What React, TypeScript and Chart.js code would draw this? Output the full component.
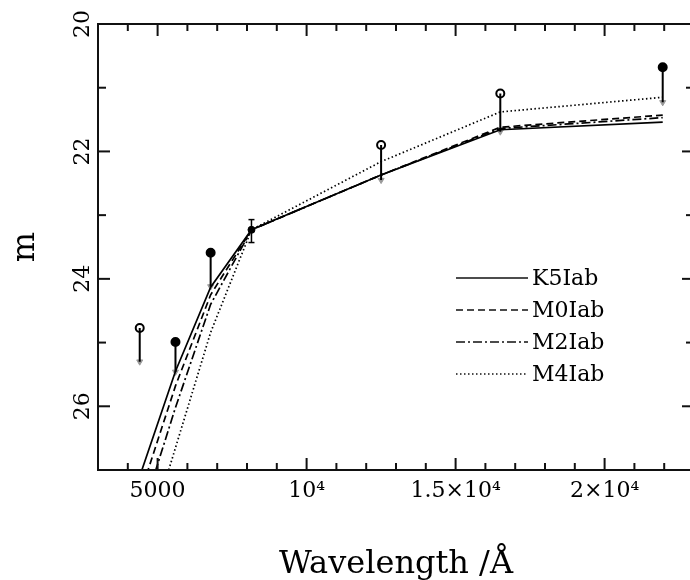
import React, { useEffect, useRef } from 'react';
import { Chart, registerables } from 'chart.js';

Chart.register(...registerables);

// Model SED wavelengths (Å) and magnitudes
const modelWavelengths = [4400, 5600, 6780, 8150, 12500, 16500, 21950];
const k5Iab = [27.1, 25.45, 24.13, 23.23, 22.37, 21.66, 21.54];
const m0Iab = [27.4, 25.68, 24.25, 23.23, 22.37, 21.62, 21.43];
const m2Iab = [27.8, 26.02, 24.4, 23.23, 22.37, 21.64, 21.47];
const m4Iab = [28.5, 26.65, 24.84, 23.23, 22.16, 21.38, 21.15];
const modelNames = ['K5Iab', 'M0Iab', 'M2Iab', 'M4Iab'];

// Observed limits: marker at top, line down to bottom
const obsWavelengths = [4400, 5600, 6780, 12500, 16500, 21950];
const obsTop = [24.77, 24.99, 23.59, 21.9, 21.09, 20.68];
const obsBottom = [25.3, 25.46, 24.12, 22.45, 21.69, 21.23];
const obsFilled = [false, true, true, false, false, true];

// Measured point with error bar
const detWavelength = [8150];
const detMag = [23.23];
const detLow = [23.07];
const detHigh = [23.43];

// Axis ticks
const xMajorTicks = [5000, 10000, 15000, 20000];
const xTickLabels = ['5000', '10\u2074', '1.5\u00d710\u2074', '2\u00d710\u2074'];
const xMinorTicks = [4000, 6000, 7000, 8000, 9000, 11000, 12000, 13000, 14000, 16000, 17000, 18000, 19000, 21000, 22000];
const yMajorTicks = [20, 22, 24, 26];
const yTickLabels = ['20', '22', '24', '26'];
const yMinorTicks = [21, 23, 25];

const FONT = "'DejaVu Serif', 'Liberation Serif', serif";

const dashes = [[], [7, 4], [9, 3, 2, 3], [1.5, 2.5]];

const framePlugin = {
  id: 'framePlugin',
  afterDatasetsDraw(chart: any) {
    const { ctx, chartArea: a, scales } = chart;
    const xs = scales.x;
    const ys = scales.y;
    ctx.save();
    ctx.strokeStyle = '#111';
    ctx.lineWidth = 2;
    ctx.setLineDash([]);
    ctx.strokeRect(a.left, a.top, a.right - a.left, a.bottom - a.top);
    const seg = (x1: number, y1: number, x2: number, y2: number) => {
      ctx.beginPath();
      ctx.moveTo(x1, y1);
      ctx.lineTo(x2, y2);
      ctx.stroke();
    };
    ctx.lineWidth = 2;
    xMajorTicks.forEach((v) => {
      const p = xs.getPixelForValue(v);
      seg(p, a.bottom, p, a.bottom - 12);
      seg(p, a.top, p, a.top + 12);
    });
    xMinorTicks.forEach((v) => {
      const p = xs.getPixelForValue(v);
      seg(p, a.bottom, p, a.bottom - 7);
      seg(p, a.top, p, a.top + 7);
    });
    yMajorTicks.forEach((v) => {
      const p = ys.getPixelForValue(v);
      seg(a.left, p, a.left + 12, p);
      seg(a.right, p, a.right - 12, p);
    });
    yMinorTicks.forEach((v) => {
      const p = ys.getPixelForValue(v);
      seg(a.left, p, a.left + 8, p);
      seg(a.right, p, a.right - 8, p);
    });

    // legend
    ctx.font = `22px ${FONT}`;
    ctx.fillStyle = '#000';
    ctx.textBaseline = 'middle';
    ctx.textAlign = 'left';
    const rows = [278, 310, 342, 374];
    modelNames.forEach((name, i) => {
      const ds = chart.data.datasets[i];
      ctx.lineWidth = 1.6;
      ctx.setLineDash(ds.borderDash || []);
      seg(456, rows[i], 528, rows[i]);
      ctx.setLineDash([]);
      ctx.fillText(name, 532, rows[i] + 1);
    });
    ctx.restore();
  },
};

export default function App() {
  const ref = useRef<HTMLCanvasElement | null>(null);
  useEffect(() => {
    if (!ref.current) return;
    const models = [k5Iab, m0Iab, m2Iab, m4Iab];
    const modelSets = models.map((vals, i) => ({
      label: modelNames[i],
      data: modelWavelengths.map((w, j) => ({ x: w, y: vals[j] })),
      showLine: true,
      borderColor: '#000',
      borderWidth: 1.7,
      borderDash: dashes[i],
      pointRadius: 0,
      fill: false,
      tension: 0,
    }));
    const limitLines = obsWavelengths.map((w, i) => ({
      label: 'limit' + i,
      data: [{ x: w, y: obsTop[i] }, { x: w, y: obsBottom[i] }],
      showLine: true,
      borderColor: '#000',
      borderWidth: 2,
      pointRadius: 0,
    }));
    const lowMarks = {
      label: 'low',
      data: obsWavelengths.map((w, i) => ({ x: w, y: obsBottom[i] })),
      showLine: false,
      pointStyle: 'triangle',
      rotation: 180,
      pointRadius: 3.5,
      pointBackgroundColor: '#999',
      pointBorderColor: '#999',
      pointBorderWidth: 1,
    };
    const topMarks = {
      label: 'top',
      data: obsWavelengths.map((w, i) => ({ x: w, y: obsTop[i] })),
      showLine: false,
      pointStyle: 'circle',
      pointRadius: 4,
      pointBackgroundColor: obsFilled.map((f) => (f ? '#000' : '#fff')),
      pointBorderColor: '#000',
      pointBorderWidth: 2,
    };
    const errBar = {
      label: 'err',
      data: [
        { x: detWavelength[0], y: detLow[0] },
        { x: detWavelength[0], y: detHigh[0] },
      ],
      showLine: true,
      borderColor: '#000',
      borderWidth: 1.5,
      pointStyle: 'line',
      pointRadius: 3,
      pointBorderColor: '#000',
      pointBorderWidth: 1.5,
    };
    const detPoint = {
      label: 'det',
      data: detWavelength.map((w, i) => ({ x: w, y: detMag[i] })),
      showLine: false,
      pointStyle: 'circle',
      pointRadius: 3.5,
      pointBackgroundColor: '#000',
      pointBorderColor: '#000',
    };

    const chart = new Chart(ref.current, {
      type: 'scatter',
      data: {
        datasets: [...modelSets, ...limitLines, lowMarks, topMarks, errBar, detPoint] as any,
      },
      plugins: [framePlugin],
      options: {
        animation: false,
        responsive: false,
        events: [],
        layout: { padding: { top: 24, right: 4, bottom: 0, left: 0 } },
        plugins: { legend: { display: false }, tooltip: { enabled: false } },
        scales: {
          x: {
            type: 'linear',
            min: 3000,
            max: 23000,
            grid: { display: false, drawTicks: false },
            border: { display: false },
            afterBuildTicks: (s: any) => {
              s.ticks = xMajorTicks.map((v) => ({ value: v }));
            },
            afterFit: (s: any) => {
              s.height = 130;
            },
            ticks: {
              autoSkip: false,
              maxRotation: 0,
              padding: 8,
              color: '#000',
              font: { family: FONT, size: 22 },
              callback: (v: any) => xTickLabels[xMajorTicks.indexOf(Number(v))] ?? '',
            },
            title: {
              display: true,
              text: 'Wavelength /\u00c5',
              color: '#000',
              font: { family: FONT, size: 32 },
              padding: { top: 0, bottom: 16 },
            },
          },
          y: {
            type: 'linear',
            reverse: true,
            min: 20,
            max: 27,
            grid: { display: false, drawTicks: false },
            border: { display: false },
            afterBuildTicks: (s: any) => {
              s.ticks = yMajorTicks.map((v) => ({ value: v }));
            },
            afterFit: (s: any) => {
              s.width = 98;
            },
            ticks: {
              autoSkip: false,
              minRotation: 90,
              maxRotation: 90,
              crossAlign: 'center',
              padding: 1,
              color: '#000',
              font: { family: FONT, size: 22 },
              callback: (v: any) => yTickLabels[yMajorTicks.indexOf(Number(v))] ?? '',
            },
            title: {
              display: true,
              text: 'm',
              color: '#000',
              font: { family: FONT, size: 32 },
              padding: { top: 6, bottom: 0 },
            },
          },
        },
      } as any,
    });
    return () => chart.destroy();
  }, []);

  return (
    <div style={{ position: 'fixed', left: 0, top: 0, width: 700, height: 600, background: '#fff' }}>
      <canvas ref={ref} width={700} height={600} />
    </div>
  );
}
